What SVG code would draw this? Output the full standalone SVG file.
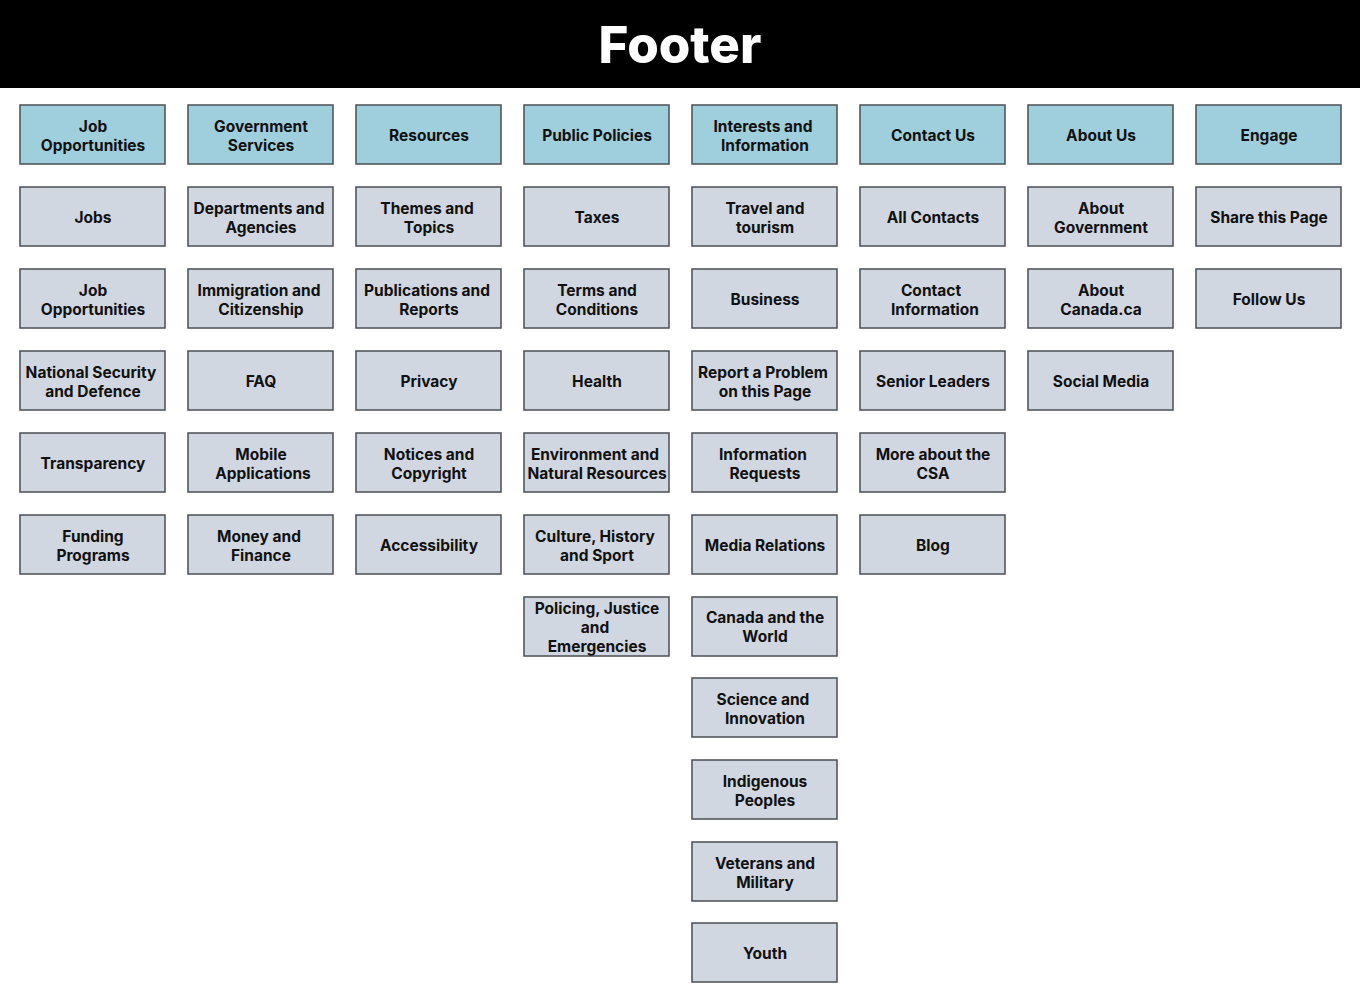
<svg xmlns="http://www.w3.org/2000/svg" width="1360" height="1000" viewBox="0 0 1360 1000">
<style>
.h rect{fill:#9fcedd;stroke:#4a4f55;stroke-width:1.5}
.n rect{fill:#d0d7e0;stroke:#4a4f55;stroke-width:1.5}
text{font-family:Inter,"Liberation Sans",sans-serif;font-weight:700;font-size:15.5px;fill:#111;text-anchor:middle}
.t{font-size:51px;fill:#fff;font-weight:800}
</style>
<rect x="0" y="0" width="1360" height="88" fill="#000"/>
<text class="t" x="680" y="63">Footer</text>
<g transform="translate(0,1)">
<g id="c1-0" class="h"><rect x="20" y="104" width="145" height="59"/><text x="93" y="131">Job</text><text x="93" y="150">Opportunities</text></g>
<g id="c2-0" class="h"><rect x="188" y="104" width="145" height="59"/><text x="261" y="131">Government</text><text x="261" y="150">Services</text></g>
<g id="c3-0" class="h"><rect x="356" y="104" width="145" height="59"/><text x="429" y="140">Resources</text></g>
<g id="c4-0" class="h"><rect x="524" y="104" width="145" height="59"/><text x="597" y="140">Public Policies</text></g>
<g id="c5-0" class="h"><rect x="692" y="104" width="145" height="59"/><text x="763" y="131">Interests and</text><text x="765" y="150">Information</text></g>
<g id="c6-0" class="h"><rect x="860" y="104" width="145" height="59"/><text x="933" y="140">Contact Us</text></g>
<g id="c7-0" class="h"><rect x="1028" y="104" width="145" height="59"/><text x="1101" y="140">About Us</text></g>
<g id="c8-0" class="h"><rect x="1196" y="104" width="145" height="59"/><text x="1269" y="140">Engage</text></g>

<g id="c1-1" class="n"><rect x="20" y="186" width="145" height="59"/><text x="93" y="222">Jobs</text></g>
<g id="c1-2" class="n"><rect x="20" y="268" width="145" height="59"/><text x="93" y="295">Job</text><text x="93" y="314">Opportunities</text></g>
<g id="c1-3" class="n"><rect x="20" y="350" width="145" height="59"/><text x="91" y="377">National Security</text><text x="93" y="396">and Defence</text></g>
<g id="c1-4" class="n"><rect x="20" y="432" width="145" height="59"/><text x="93" y="468">Transparency</text></g>
<g id="c1-5" class="n"><rect x="20" y="514" width="145" height="59"/><text x="93" y="541">Funding</text><text x="93" y="560">Programs</text></g>

<g id="c2-1" class="n"><rect x="188" y="186" width="145" height="59"/><text x="259" y="213">Departments and</text><text x="261" y="232">Agencies</text></g>
<g id="c2-2" class="n"><rect x="188" y="268" width="145" height="59"/><text x="259" y="295">Immigration and</text><text x="261" y="314">Citizenship</text></g>
<g id="c2-3" class="n"><rect x="188" y="350" width="145" height="59"/><text x="261" y="386">FAQ</text></g>
<g id="c2-4" class="n"><rect x="188" y="432" width="145" height="59"/><text x="261" y="459">Mobile</text><text x="263" y="478">Applications</text></g>
<g id="c2-5" class="n"><rect x="188" y="514" width="145" height="59"/><text x="259" y="541">Money and</text><text x="261" y="560">Finance</text></g>

<g id="c3-1" class="n"><rect x="356" y="186" width="145" height="59"/><text x="427" y="213">Themes and</text><text x="429" y="232">Topics</text></g>
<g id="c3-2" class="n"><rect x="356" y="268" width="145" height="59"/><text x="427" y="295">Publications and</text><text x="429" y="314">Reports</text></g>
<g id="c3-3" class="n"><rect x="356" y="350" width="145" height="59"/><text x="429" y="386">Privacy</text></g>
<g id="c3-4" class="n"><rect x="356" y="432" width="145" height="59"/><text x="429" y="459">Notices and</text><text x="429" y="478">Copyright</text></g>
<g id="c3-5" class="n"><rect x="356" y="514" width="145" height="59"/><text x="429" y="550">Accessibility</text></g>

<g id="c4-1" class="n"><rect x="524" y="186" width="145" height="59"/><text x="597" y="222">Taxes</text></g>
<g id="c4-2" class="n"><rect x="524" y="268" width="145" height="59"/><text x="597" y="295">Terms and</text><text x="597" y="314">Conditions</text></g>
<g id="c4-3" class="n"><rect x="524" y="350" width="145" height="59"/><text x="597" y="386">Health</text></g>
<g id="c4-4" class="n"><rect x="524" y="432" width="145" height="59"/><text x="595" y="459">Environment and</text><text x="597" y="478">Natural Resources</text></g>
<g id="c4-5" class="n"><rect x="524" y="514" width="145" height="59"/><text x="595" y="541">Culture, History</text><text x="597" y="560">and Sport</text></g>
<g id="c4-6" class="n"><rect x="524" y="596" width="145" height="59"/><text x="597" y="613">Policing, Justice</text><text x="595" y="632">and</text><text x="597" y="651">Emergencies</text></g>

<g id="c5-1" class="n"><rect x="692" y="186" width="145" height="59"/><text x="765" y="213">Travel and</text><text x="765" y="232">tourism</text></g>
<g id="c5-2" class="n"><rect x="692" y="268" width="145" height="59"/><text x="765" y="304">Business</text></g>
<g id="c5-3" class="n"><rect x="692" y="350" width="145" height="59"/><text x="763" y="377">Report a Problem</text><text x="765" y="396">on this Page</text></g>
<g id="c5-4" class="n"><rect x="692" y="432" width="145" height="59"/><text x="763" y="459">Information</text><text x="765" y="478">Requests</text></g>
<g id="c5-5" class="n"><rect x="692" y="514" width="145" height="59"/><text x="765" y="550">Media Relations</text></g>
<g id="c5-6" class="n"><rect x="692" y="596" width="145" height="59"/><text x="765" y="622">Canada and the</text><text x="765" y="641">World</text></g>
<g id="c5-7" class="n"><rect x="692" y="677" width="145" height="59"/><text x="763" y="704">Science and</text><text x="765" y="723">Innovation</text></g>
<g id="c5-8" class="n"><rect x="692" y="759" width="145" height="59"/><text x="765" y="786">Indigenous</text><text x="765" y="805">Peoples</text></g>
<g id="c5-9" class="n"><rect x="692" y="841" width="145" height="59"/><text x="765" y="868">Veterans and</text><text x="765" y="887">Military</text></g>
<g id="c5-10" class="n"><rect x="692" y="922" width="145" height="59"/><text x="765" y="958">Youth</text></g>

<g id="c6-1" class="n"><rect x="860" y="186" width="145" height="59"/><text x="933" y="222">All Contacts</text></g>
<g id="c6-2" class="n"><rect x="860" y="268" width="145" height="59"/><text x="931" y="295">Contact</text><text x="935" y="314">Information</text></g>
<g id="c6-3" class="n"><rect x="860" y="350" width="145" height="59"/><text x="933" y="386">Senior Leaders</text></g>
<g id="c6-4" class="n"><rect x="860" y="432" width="145" height="59"/><text x="933" y="459">More about the</text><text x="933" y="478">CSA</text></g>
<g id="c6-5" class="n"><rect x="860" y="514" width="145" height="59"/><text x="933" y="550">Blog</text></g>

<g id="c7-1" class="n"><rect x="1028" y="186" width="145" height="59"/><text x="1101" y="213">About</text><text x="1101" y="232">Government</text></g>
<g id="c7-2" class="n"><rect x="1028" y="268" width="145" height="59"/><text x="1101" y="295">About</text><text x="1101" y="314">Canada.ca</text></g>
<g id="c7-3" class="n"><rect x="1028" y="350" width="145" height="59"/><text x="1101" y="386">Social Media</text></g>

<g id="c8-1" class="n"><rect x="1196" y="186" width="145" height="59"/><text x="1269" y="222">Share this Page</text></g>
<g id="c8-2" class="n"><rect x="1196" y="268" width="145" height="59"/><text x="1269" y="304">Follow Us</text></g>
</g>
<g id="connectors"/>
</svg>
